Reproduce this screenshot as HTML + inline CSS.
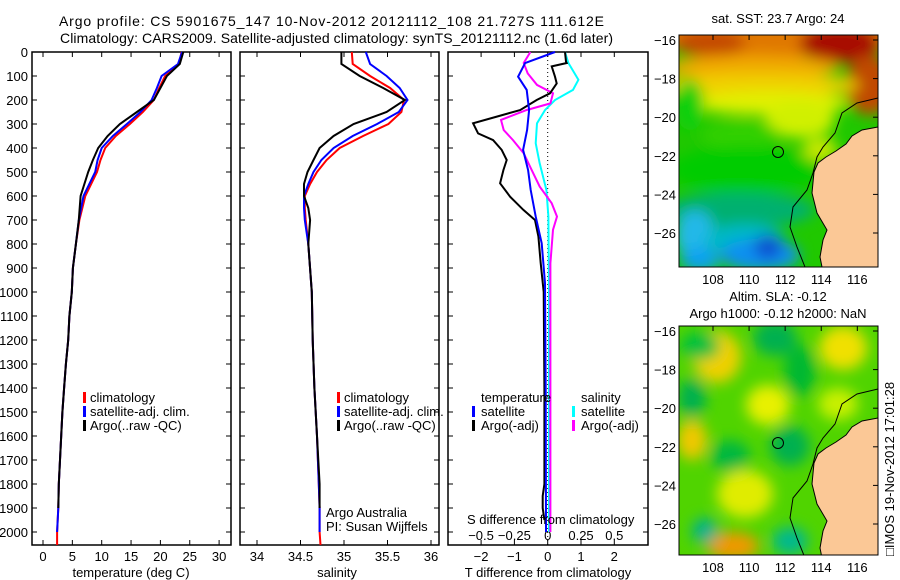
<!DOCTYPE html>
<html><head><meta charset="utf-8">
<style>
body{margin:0;background:#fff;}
svg{display:block;font-family:"Liberation Sans",sans-serif;}
text{fill:#000;}
</style></head>
<body>
<svg id="fig" width="900" height="580" viewBox="0 0 900 580">
<text x="59" y="26" font-size="14" textLength="545">Argo profile: CS 5901675_147 10-Nov-2012 20121112_108 21.727S 111.612E</text>
<text x="60" y="43" font-size="14" textLength="553">Climatology: CARS2009. Satellite-adjusted climatology: synTS_20121112.nc (1.6d later)</text>
<g id="maps"></g>
<g id="p1"></g><g id="p2"></g><g id="p3"></g>
<text transform="translate(894,556) rotate(-90)" font-size="13">□IMOS 19-Nov-2012 17:01:28</text>
</svg>
<script>
// ---- data: depth (dbar) and values ----
const tDepth = [0,50,100,150,200,250,300,350,400,450,500,600,700,800,900,1000,1100,1200,1300,1400,1500,1600,1700,1800,1900,2000,2054];
const tClim  = [23.6,23.2,20.8,19.8,18.9,17.0,14.8,12.4,10.6,9.8,9.2,7.2,6.2,5.6,5.1,4.9,4.5,4.3,3.9,3.6,3.3,3.1,2.9,2.7,2.6,2.4,2.4];
const tSat   = [23.7,23.0,20.2,19.4,18.5,16.6,14.3,11.9,10.0,9.3,8.9,6.9,6.1,5.6,5.1,4.9,4.5,4.3,3.9,3.6,3.3,3.1,2.9,2.7,2.6,2.4];
const tArgo  = [23.9,23.3,21.1,20.0,18.9,16.0,13.1,11.0,9.4,8.5,7.7,6.4,6.1,5.6,5.1,4.9,4.5,4.3,3.9,3.6,3.3,3.1,2.9,2.7,2.6];
const sDepth = [0,50,100,150,200,250,300,350,400,450,500,550,600,650,700,800,1000,1200,1400,1600,1800,1900,2000,2054];
const sClim  = [35.09,35.10,35.30,35.53,35.69,35.66,35.51,35.22,34.95,34.80,34.69,34.61,34.55,34.55,34.56,34.59,34.63,34.64,34.66,34.69,34.71,34.72,34.72,34.73];
const sSat   = [35.25,35.30,35.49,35.64,35.73,35.63,35.38,35.10,34.88,34.74,34.65,34.59,34.54,34.54,34.55,34.59,34.63,34.64,34.66,34.69,34.71,34.72,34.72];
const sArgo  = [34.97,34.97,35.18,35.45,35.70,35.49,35.11,34.88,34.72,34.65,34.58,34.54,34.54,34.59,34.61,34.59,34.63,34.64,34.66,34.69,34.72,34.72];
const dDepthA = [0,40,46,60,103,131,172,200,242,269,297,339,367,408,450,492,547,603,658,700,769,880,1000,1400,1800,1850,1900,1950];
const dTArgo  = [0.52,0.55,0.57,0.12,0.22,0.27,0.07,-0.33,-0.83,-1.53,-2.24,-2.09,-1.64,-1.38,-1.23,-1.33,-1.43,-1.13,-0.73,-0.38,-0.28,-0.21,-0.12,-0.1,-0.1,-0.15,-0.15,-0.1];
const dDepthB = [0,46,103,158,242,325,408,492,575,686,797,963,1400,2000];
const dTSat   = [0.22,-0.68,-0.89,-0.63,-0.56,-0.62,-0.74,-0.59,-0.51,-0.36,-0.18,-0.08,-0.06,-0.05];
const dDepthC = [0,46,89,137,172,214,242,283,325,367,422,492,561,630,686,741,880,1200,2000];
const dSArgo  = [-0.13,-0.18,-0.15,-0.08,0.04,0.02,-0.16,-0.35,-0.33,-0.26,-0.18,-0.12,-0.06,0.03,0.07,0.04,0.02,0.02,0.02];
const dDepthD = [0,46,116,158,200,242,297,380,464,575,686,1000,2000];
const dSSat   = [0.13,0.155,0.23,0.19,0.055,-0.02,-0.08,-0.09,-0.06,-0.01,0.005,0.01,0.01];
const depthTicks = [0,100,200,300,400,500,600,700,800,900,1000,1100,1200,1300,1400,1500,1600,1700,1800,1900,2000];
const tTicks = [0,5,10,15,20,25,30];
const sTicks = [34,34.5,35,35.5,36];
const dtTicks = [-2,-1,0,1,2];
const dsTicks = [-0.5,-0.25,0,0.25,0.5];
const latTicks = [-16,-18,-20,-22,-24,-26];
const lonTicks = [108,110,112,114,116];

const NS="http://www.w3.org/2000/svg";
function mk(tag,attrs,parent){const e=document.createElementNS(NS,tag);for(const k in attrs)e.setAttribute(k,attrs[k]);parent.appendChild(e);return e;}
const yD = d => 52 + d*0.24;
const PT=52, PB=545;

function panel(g,x0,x1,xs,xTicks,xLab,yLabels,name){
  const frame=mk('rect',{x:x0,y:PT,width:x1-x0,height:PB-PT,fill:'none',stroke:'#000','stroke-width':1.5},g);
  
  
  depthTicks.forEach(d=>{
    mk('line',{x1:x0,x2:x0+5,y1:yD(d),y2:yD(d),stroke:'#000'},g);
    mk('line',{x1:x1,x2:x1-5,y1:yD(d),y2:yD(d),stroke:'#000'},g);
    if(yLabels){const t=mk('text',{x:x0-4,y:yD(d)+5,'font-size':13,'text-anchor':'end'},g);t.textContent=d;
      
      }
  });
  xTicks.forEach(v=>{
    mk('line',{x1:xs(v),x2:xs(v),y1:PB,y2:PB-5,stroke:'#000'},g);
    mk('line',{x1:xs(v),x2:xs(v),y1:PT,y2:PT+5,stroke:'#000'},g);
    if(xLab){const t=mk('text',{x:xs(v),y:561,'font-size':13,'text-anchor':'middle'},g);t.textContent=v;
      
      }
  });
}
function line(g,depths,vals,xs,color,name){
  const pts=vals.map((v,i)=>xs(v).toFixed(1)+','+yD(depths[i]).toFixed(1)).join(' ');
  const p=mk('polyline',{points:pts,fill:'none',stroke:color,'stroke-width':2},g);
  
  
}
function txt(g,x,y,s,name,anchor,size){const t=mk('text',{x:x,y:y,'font-size':size||13,'text-anchor':anchor||'start'},g);t.textContent=s;
  
  return t;}
function legMark(g,x,y,c){mk('rect',{x:x,y:y-10,width:3,height:11,fill:c},g);}

// panel 1
const g1=document.getElementById('p1');
const xT=v=>43+v*5.87;
panel(g1,32,231,xT,tTicks,true,true,'temperature-panel');
line(g1,tDepth,tClim,xT,'#f00','temp-climatology-line');
line(g1,tDepth.slice(0,tSat.length),tSat,xT,'#00f','temp-satellite-line');
line(g1,tDepth.slice(0,tArgo.length),tArgo,xT,'#000','temp-argo-line');
txt(g1,131,577,'temperature (deg C)','x-axis-title-temperature','middle');
legMark(g1,83,402,'#f00');txt(g1,90,402,'climatology','legend-climatology');
legMark(g1,83,416,'#00f');txt(g1,90,416,'satellite-adj. clim.','legend-satellite');
legMark(g1,83,430,'#000');txt(g1,90,430,'Argo(..raw -QC)','legend-argo');

// panel 2
const g2=document.getElementById('p2');
const xS=v=>257+(v-34)*87;
panel(g2,240,439,xS,sTicks,true,false,'salinity-panel');
line(g2,sDepth,sClim,xS,'#f00','sal-climatology-line');
line(g2,sDepth.slice(0,sSat.length),sSat,xS,'#00f','sal-satellite-line');
line(g2,sDepth.slice(0,sArgo.length),sArgo,xS,'#000','sal-argo-line');
txt(g2,337,577,'salinity','x-axis-title-salinity','middle');
legMark(g2,337,402,'#f00');txt(g2,344,402,'climatology','legend-climatology-2');
legMark(g2,337,416,'#00f');txt(g2,344,416,'satellite-adj. clim.','legend-satellite-2');
legMark(g2,337,430,'#000');txt(g2,344,430,'Argo(..raw -QC)','legend-argo-2');
txt(g2,326,517,'Argo Australia','credit-argo-australia');
txt(g2,326,531,'PI: Susan Wijffels','credit-pi');

// panel 3
const g3=document.getElementById('p3');
const xDT=v=>547.7+v*33.3;
const xDS=v=>547.7+v*133.3;
panel(g3,448,648,xDT,dtTicks,false,false,'difference-panel');
dtTicks.forEach(v=>{txt(g3,xDT(v),561,(v<0?'\u2212':'')+Math.abs(v),'t-diff-tick-label','middle');});
dsTicks.forEach(v=>{txt(g3,xDS(v),540,(v<0?'\u2212':'')+Math.abs(v),'s-diff-tick-label','middle');});
for(let y=PT;y<PB;y+=4){mk('rect',{x:547.2,y:y,width:1,height:1,fill:'#000'},g3);}
line(g3,dDepthD,dSSat,xDS,'#0ff','sal-diff-satellite-line');
line(g3,dDepthC,dSArgo,xDS,'#f0f','sal-diff-argo-line');
line(g3,dDepthA,dTArgo,xDT,'#000','temp-diff-argo-line');
line(g3,dDepthB,dTSat,xDT,'#00f','temp-diff-satellite-line');
txt(g3,467,524,'S difference from climatology','s-diff-axis-title');
txt(g3,548,577,'T difference from climatology','t-diff-axis-title','middle');
txt(g3,481,402,'temperature','legend-temperature-header');
legMark(g3,472,416,'#00f');txt(g3,481,416,'satellite','legend-temp-satellite');
legMark(g3,472,430,'#000');txt(g3,481,430,'Argo(-adj)','legend-temp-argo');
txt(g3,581,402,'salinity','legend-salinity-header');
legMark(g3,572,416,'#0ff');txt(g3,581,416,'satellite','legend-sal-satellite');
legMark(g3,572,430,'#f0f');txt(g3,581,430,'Argo(-adj)','legend-sal-argo');

// maps
const gm=document.getElementById('maps');
const defs=mk('defs',{},gm);
const f=mk('filter',{id:'bl',x:'-50%',y:'-50%',width:'200%',height:'200%'},defs);
mk('feGaussianBlur',{stdDeviation:7},f);
const cp1=mk('clipPath',{id:'c1'},defs);mk('rect',{x:679,y:35,width:199,height:232},cp1);
const cp2=mk('clipPath',{id:'c2'},defs);mk('rect',{x:679,y:326,width:199,height:229},cp2);
const lonX=l=>713+(l-108)*18.04;
function map(top,clip,blobs,base,name){
  const g=mk('g',{},gm);
  
  
  const inner=mk('g',{'clip-path':'url(#'+clip+')'},g);
  mk('rect',{x:679,y:top,width:199,height:232,fill:base},inner);
  const bg=mk('g',{filter:'url(#bl)'},inner);
  blobs.forEach(b=>mk('ellipse',{cx:b[0],cy:b[1]+top,rx:b[2],ry:b[3],fill:b[4]},bg));
  const o=top-35;
  const coast='878,127 862,130 852,136 846,144 836,151 826,157 818,163 814,172 812,193 817,213 827,230 823,240 820,257 822,267';
  mk('polygon',{points:coast+' 878,267',fill:'#fbc896',transform:'translate(0,'+o+')'},inner);
  mk('polyline',{points:coast,fill:'none',stroke:'#000','stroke-width':1,transform:'translate(0,'+o+')'},inner);
  mk('polyline',{points:'878,98 857,103 842,113 835,133 823,147 817,157 813,173 807,190 793,207 790,227 797,247 805,267',fill:'none',stroke:'#000','stroke-width':1,transform:'translate(0,'+o+')'},inner);
  mk('circle',{cx:778,cy:152+o,r:5.5,fill:'none',stroke:'#000','stroke-width':1},inner);
  const h=clip=='c1'?232:229;
  mk('rect',{x:679,y:top,width:199,height:h,fill:'none',stroke:'#000'},g);
  const bottom=top+h;
  latTicks.forEach(l=>{const y=top+5+(-16-l)*19.3;
    mk('line',{x1:878,x2:873,y1:y,y2:y,stroke:'#000'},g);
    txt(g,676,y+5,'\u2212'+Math.abs(l),'lat-tick-label','end');});
  lonTicks.forEach(l=>{const x=lonX(l);
    mk('line',{x1:x,x2:x,y1:top,y2:top+5,stroke:'#000'},g);
    txt(g,x,bottom+17,String(l),'lon-tick-label','middle');});
}
map(35,'c1',[
  [780,0,140,22,'#e07800'],[710,8,35,14,'#c44800'],[840,8,40,20,'#a81000'],[870,50,25,30,'#c04800'],
  [750,32,90,12,'#f0a800'],[760,50,100,12,'#f0d000'],[770,68,80,12,'#e0f000'],[690,70,14,26,'#10d010'],
  [800,85,35,18,'#d0f000'],[820,115,18,12,'#c8e800'],[740,100,40,14,'#30d000'],
  [745,135,75,24,'#00cc00'],[740,175,75,18,'#00b070'],[695,200,20,25,'#20b8e8'],
  [745,205,40,16,'#00b8c8'],[760,220,40,16,'#1090f0'],[768,212,14,12,'#1050d0'],[700,225,20,12,'#10a0f0']
],'#20c800','sst-map');
map(326,'c2',[
  [717,31,24,26,'#f0d000'],[843,22,24,22,'#f0e000'],[775,12,22,18,'#00b050'],[692,72,14,20,'#00b050'],
  [768,79,22,20,'#e8f000'],[800,45,16,26,'#00b830'],[692,114,15,20,'#f0c800'],
  [730,130,20,16,'#00b840'],[745,168,28,24,'#e0ec00'],[733,220,26,14,'#f09800'],
  [705,205,13,13,'#00b090'],[790,215,18,14,'#00b890'],[790,120,20,20,'#00b050'],[838,78,20,16,'#c8f000'],[700,20,20,14,'#00c040']
],'#50d400','sla-map');
txt(gm,778,23,'sat. SST: 23.7 Argo: 24','sst-map-title','middle');
txt(gm,778,301,'Altim. SLA: -0.12','sla-map-title-1','middle');
txt(gm,778,318,'Argo h1000: -0.12 h2000: NaN','sla-map-title-2','middle');
</script>
</body></html>
